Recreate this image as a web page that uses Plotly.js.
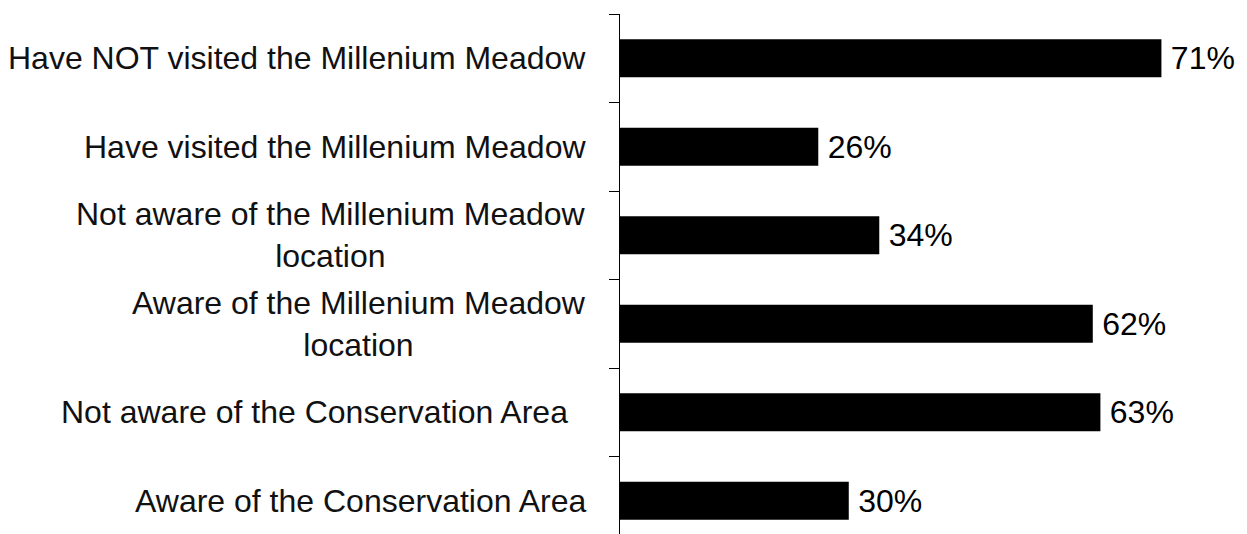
<!DOCTYPE html>
<html>
<head>
<meta charset="utf-8">
<script src="https://cdn.plot.ly/plotly-3.0.1.min.js"></script>
<style>
html,body{margin:0;padding:0;background:#fff;overflow:hidden;}
#chart{width:1247px;height:545px;}
</style>
</head>
<body>
<div id="chart"></div>
<script>
// Categories, top to bottom
const categories = [
  'Have NOT visited the Millenium Meadow',
  'Have visited the Millenium Meadow',
  'Not aware of the Millenium Meadow<br>location',
  'Aware of the Millenium Meadow<br>location',
  'Not aware of the Conservation Area\u00a0\u00a0',
  'Aware of the Conservation Area'
];
const values = [71, 26, 34, 62, 63, 30];
const valueLabels = values.map(v => '\u2009' + v + '%');

const FONT = 'Liberation Sans, Arial, sans-serif';

const trace = {
  type: 'bar',
  orientation: 'h',
  y: categories,
  x: values,
  text: valueLabels,
  textposition: 'outside',
  cliponaxis: false,
  constraintext: 'none',
  textfont: {family: FONT, size: 32, color: '#000'},
  marker: {color: '#000', line: {width: 0}},
  hoverinfo: 'none'
};

const annotations = categories.map(c => ({
  xref: 'paper', yref: 'y',
  x: -0.052, y: c,
  xanchor: 'right', yanchor: 'middle',
  align: 'center',
  text: c,
  showarrow: false,
  font: {family: FONT, size: 32, color: '#111'}
}));

const layout = {
  width: 1247, height: 545,
  margin: {l: 620, r: 20, t: 14, b: 0, pad: 0},
  paper_bgcolor: '#fff', plot_bgcolor: '#fff',
  showlegend: false,
  bargap: 0.57,
  xaxis: {range: [0, 79.6], visible: false, showgrid: false, zeroline: false},
  yaxis: {
    type: 'category', autorange: 'reversed',
    showline: true, linecolor: '#000', linewidth: 1,
    ticks: 'outside', ticklen: 10, tickcolor: '#000', tickwidth: 1,
    tickson: 'boundaries', showticklabels: false,
    showgrid: false, zeroline: false
  },
  annotations: annotations
};

Plotly.newPlot('chart', [trace], layout, {staticPlot: true, displayModeBar: false});
</script>
</body>
</html>
